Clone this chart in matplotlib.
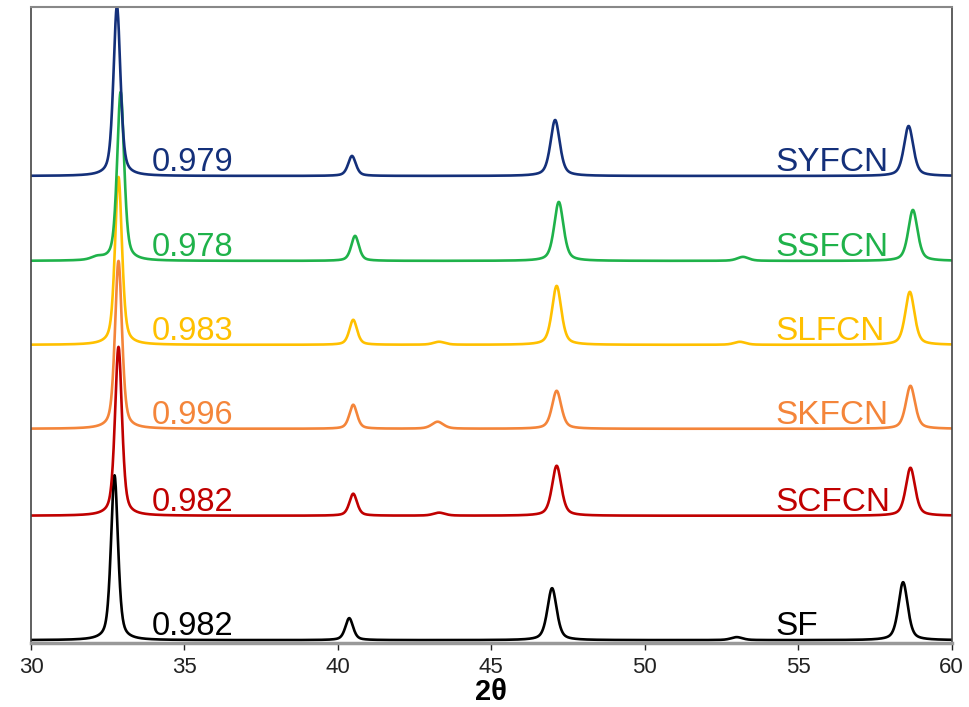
import matplotlib.pyplot as plt
import numpy as np

plt.rcParams["font.family"] = ["Liberation Sans", "DejaVu Sans"]

# samples, bottom to top
names = ["SF", "SCFCN", "SKFCN", "SLFCN", "SSFCN", "SYFCN"]
factors = ["0.982", "0.982", "0.996", "0.983", "0.978", "0.979"]
colors = ["#000000", "#C00000", "#F4853A", "#FFC000", "#1FB24A", "#14307A"]
offsets = [2.5, 127, 214, 298, 382, 467]

# peak positions (2theta) and heights (arb. units)
peak_pos = [
    [32.72, 40.37, 46.98, 58.42, 53.0],
    [32.85, 40.50, 47.13, 58.66, 43.3],
    [32.85, 40.50, 47.13, 58.66, 43.25],
    [32.85, 40.50, 47.13, 58.64, 43.3, 53.1],
    [32.92, 40.56, 47.20, 58.74, 53.2, 32.15],
    [32.80, 40.46, 47.08, 58.60],
]
peak_h = [
    [165, 22, 52, 58, 3],
    [169, 22, 50, 48, 3],
    [168, 24, 38, 43, 7],
    [168, 25, 59, 53, 3, 3],
    [169, 25, 59, 51, 4, 3],
    [170, 20, 56, 50],
]
peak_w = [0.27, 0.3, 0.36, 0.36, 0.45, 0.45]


def pattern(x, pos, hts):
    y = np.zeros_like(x)
    for i, (p, h) in enumerate(zip(pos, hts)):
        w = peak_w[min(i, len(peak_w) - 1)]
        g = np.exp(-4 * np.log(2) * ((x - p) / w) ** 2)
        lz = 1.0 / (1 + 4 * ((x - p) / w) ** 2)
        y += h * (0.5 * g + 0.5 * lz)
    return y


x = np.linspace(30, 60, 3000)

fig = plt.figure(figsize=(9.7, 7.07), dpi=100)
ax = fig.add_axes([0.032, 0.091, 0.949, 0.899])

for name, fac, col, off, pos, hts in zip(names, factors, colors, offsets, peak_pos, peak_h):
    y = off + pattern(x, pos, hts)
    ax.plot(x, y, color=col, lw=1.9, clip_on=True)
    ax.text(33.95, off + 5, fac, color=col, fontsize=23.5, ha="left", va="baseline")
    ax.text(54.25, off + 5, name, color=col, fontsize=24, ha="left", va="baseline")

ax.set_xlim(30, 60)
ax.set_ylim(0, 636)
ax.set_yticks([])
ax.set_xticks(np.arange(30, 61, 5))
ax.tick_params(axis="x", direction="out", length=5, width=1, labelsize=16,
               colors="#222222", pad=5)
ax.set_xlabel("2θ", fontsize=21, fontweight="bold", labelpad=0)
for side in ["left", "right"]:
    ax.spines[side].set_color("#444444")
    ax.spines[side].set_linewidth(1.2)
ax.spines["top"].set_color("#888888")
ax.spines["top"].set_linewidth(1.5)
ax.spines["bottom"].set_color("#999999")
ax.spines["bottom"].set_linewidth(2.5)

fig.savefig("out.png", dpi=100)
